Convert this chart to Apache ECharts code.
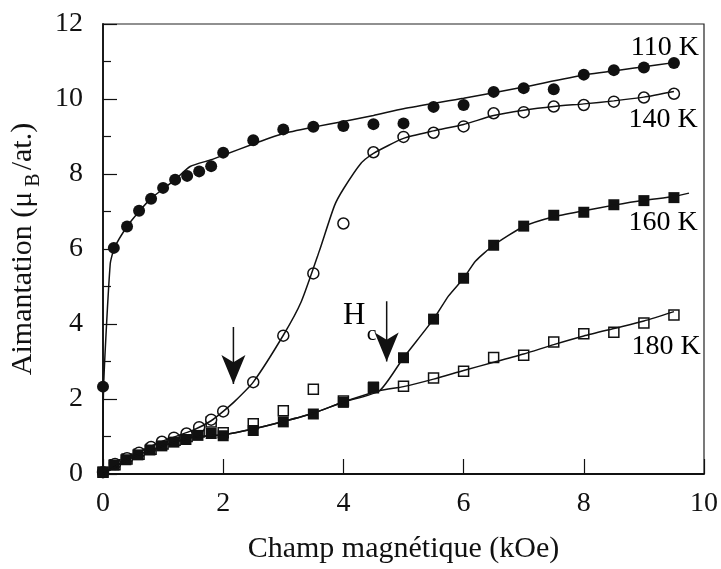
<!DOCTYPE html>
<html>
<head>
<meta charset="utf-8">
<script src="https://cdn.jsdelivr.net/npm/echarts@6/dist/echarts.min.js"></script>
<style>
  html, body { margin: 0; padding: 0; background: #fff; }
  #chart { width: 721px; height: 569px; }
</style>
</head>
<body>
<div id="chart"></div>
<script>
// mesures (ronds pleins) 110 K
var h110 = [0, 0.18, 0.4, 0.6, 0.8, 1.0, 1.2, 1.4, 1.6, 1.8, 2.0, 2.5, 3.0, 3.5, 4.0, 4.5, 5.0, 5.5, 6.0, 6.5, 7.0, 7.5, 8.0, 8.5, 9.0, 9.5];
var m110 = [2.33, 6.03, 6.6, 7.02, 7.34, 7.63, 7.85, 7.95, 8.07, 8.21, 8.57, 8.9, 9.19, 9.26, 9.28, 9.33, 9.35, 9.79, 9.84, 10.19, 10.29, 10.26, 10.65, 10.77, 10.84, 10.96];
// mesures (ronds vides) 140 K
var h140 = [0, 0.2, 0.4, 0.6, 0.8, 0.98, 1.18, 1.39, 1.6, 1.8, 2.0, 2.5, 3.0, 3.5, 4.0, 4.5, 5.0, 5.5, 6.0, 6.5, 7.0, 7.5, 8.0, 8.5, 9.0, 9.5];
var m140 = [0.05, 0.27, 0.42, 0.57, 0.72, 0.86, 0.97, 1.08, 1.25, 1.45, 1.67, 2.45, 3.69, 5.35, 6.68, 8.58, 8.99, 9.1, 9.27, 9.62, 9.65, 9.8, 9.84, 9.93, 10.04, 10.14];
// mesures (carres pleins) 160 K
var h160 = [0, 0.18, 0.38, 0.58, 0.78, 0.98, 1.18, 1.38, 1.58, 1.8, 2.0, 2.5, 3.0, 3.5, 4.0, 4.5, 5.0, 5.5, 6.0, 6.5, 7.0, 7.5, 8.0, 8.5, 9.0, 9.5];
var m160 = [0.05, 0.24, 0.38, 0.51, 0.64, 0.75, 0.85, 0.92, 1.03, 1.08, 1.02, 1.16, 1.39, 1.6, 1.91, 2.32, 3.1, 4.13, 5.22, 6.1, 6.61, 6.9, 6.98, 7.18, 7.29, 7.37];
// mesures (carres vides) 180 K
var h180 = [0, 0.2, 0.4, 0.6, 0.8, 1.0, 1.2, 1.4, 1.6, 1.8, 2.0, 2.5, 3.0, 3.5, 4.0, 4.5, 5.0, 5.5, 6.0, 6.5, 7.0, 7.5, 8.0, 8.5, 9.0, 9.5];
var m180 = [0.05, 0.25, 0.4, 0.53, 0.66, 0.8, 0.9, 1.0, 1.12, 1.39, 1.1, 1.34, 1.69, 2.26, 1.95, 2.3, 2.34, 2.56, 2.74, 3.11, 3.17, 3.52, 3.74, 3.78, 4.03, 4.24];

// courbes tracees (traits pleins)
var fitH110 = [0, 0.01, 0.12, 0.19, 0.4, 0.6, 0.8, 1.0, 1.2, 1.45, 1.8, 2.0, 2.5, 3.0, 3.5, 4.0, 4.5, 5.0, 6.0, 7.0, 8.0, 9.0, 9.5];
var fitM110 = [0, 2.33, 5.6, 6.03, 6.6, 7.0, 7.35, 7.6, 7.85, 8.2, 8.38, 8.5, 8.8, 9.08, 9.25, 9.4, 9.56, 9.74, 10.02, 10.32, 10.64, 10.86, 10.97];
var fitH140 = [0, 0.5, 1.0, 1.5, 1.8, 2.0, 2.2, 2.5, 3.0, 3.3, 3.6, 3.85, 4.0, 4.3, 4.5, 5.0, 5.5, 6.0, 6.5, 7.0, 7.5, 8.0, 8.5, 9.0, 9.5];
var fitM140 = [0, 0.5, 0.88, 1.17, 1.42, 1.67, 1.95, 2.45, 3.7, 4.6, 5.95, 7.15, 7.6, 8.3, 8.55, 8.95, 9.15, 9.32, 9.56, 9.7, 9.8, 9.87, 9.95, 10.05, 10.2];
var fitH160 = [0, 0.5, 1.0, 1.5, 2.0, 2.5, 3.0, 3.5, 4.0, 4.6, 5.0, 5.5, 5.75, 6.0, 6.2, 6.5, 7.0, 7.5, 8.0, 8.5, 9.0, 9.5, 9.75];
var fitM160 = [0, 0.45, 0.75, 0.98, 1.05, 1.2, 1.4, 1.62, 1.92, 2.22, 3.1, 4.13, 4.75, 5.22, 5.68, 6.1, 6.6, 6.86, 7.02, 7.17, 7.3, 7.4, 7.49];
var fitH180 = [0, 0.5, 1.0, 1.5, 2.0, 2.5, 3.0, 3.5, 4.0, 4.6, 5.0, 5.5, 6.0, 6.5, 7.0, 7.5, 8.0, 8.5, 9.0, 9.5];
var fitM180 = [0, 0.45, 0.75, 0.98, 1.05, 1.2, 1.4, 1.62, 1.92, 2.22, 2.33, 2.53, 2.76, 2.98, 3.2, 3.45, 3.68, 3.88, 4.08, 4.33];

var temperatures = ['110 K', '140 K', '160 K', '180 K'];
var xTicks = [0, 2, 4, 6, 8, 10];
var yTicks = [0, 2, 4, 6, 8, 10, 12];

var FONT = 'Liberation Serif';
var INK = '#111';

function pairs(xs, ys) {
  return xs.map(function (x, i) { return [x, ys[i]]; });
}

function points(name, xs, ys, symbol, filled, size) {
  return {
    name: name,
    type: 'scatter',
    symbol: symbol,
    symbolSize: size,
    z: 2,
    itemStyle: {
      color: filled ? INK : '#fff',
      borderColor: INK,
      borderWidth: filled ? 0 : 1.5,
      opacity: 1
    },
    data: pairs(xs, ys)
  };
}

function curve(name, xs, ys) {
  return {
    name: name,
    type: 'line',
    smooth: 0.2,
    showSymbol: false,
    symbol: 'none',
    z: 3,
    lineStyle: { color: INK, width: 1.5 },
    data: pairs(xs, ys)
  };
}

// fleche vers le bas (champ critique)
function arrow(x, yTop, yHead) {
  return {
    type: 'line',
    z: 4,
    lineStyle: { color: INK, width: 1.5 },
    itemStyle: { color: INK, opacity: 1 },
    symbol: 'none',
    data: [
      [x, yTop],
      { value: [x, yHead], symbol: 'arrow', symbolSize: [18, 29], symbolRotate: 180 }
    ]
  };
}

// etiquettes de texte placees sur le repere
var notes = [
  { value: [9.35, 11.37], text: temperatures[0], size: 28 },
  { value: [9.32, 9.44], text: temperatures[1], size: 28 },
  { value: [9.32, 6.69], text: temperatures[2], size: 28 },
  { value: [9.37, 3.40], text: temperatures[3], size: 28 },
  { value: [4.18, 4.21], text: 'H', size: 31 },
  { value: [4.47, 3.72], text: 'c', size: 22 }
];

var chart = echarts.init(document.getElementById('chart'), null, { renderer: 'canvas' });

var option = {
  backgroundColor: '#fff',
  animation: false,
  grid: {
    left: 103, right: 15, top: 24, bottom: 86,
    show: true, borderColor: '#222', borderWidth: 1.2
  },
  xAxis: {
    type: 'value',
    min: xTicks[0], max: xTicks[xTicks.length - 1], interval: 2,
    name: 'Champ magnétique (kOe)',
    nameLocation: 'middle',
    nameGap: 60,
    nameTextStyle: { fontFamily: FONT, fontSize: 30, color: INK },
    axisLine: { show: true, lineStyle: { color: INK, width: 1.8 } },
    axisTick: { show: true, inside: true, length: 15, lineStyle: { color: INK, width: 1.2 } },
    axisLabel: { fontFamily: FONT, fontSize: 28, color: INK, margin: 16 },
    splitLine: { show: false }
  },
  yAxis: {
    type: 'value',
    min: yTicks[0], max: yTicks[yTicks.length - 1], interval: 2,
    name: 'Aimantation (μ{sub|B}/at.)',
    nameLocation: 'middle',
    nameGap: 50,
    nameTextStyle: {
      fontFamily: FONT, fontSize: 30, color: INK,
      rich: {
        sub: { fontFamily: FONT, fontSize: 20, color: INK, lineHeight: 42, verticalAlign: 'bottom', padding: [0, 3, 0, 5] }
      }
    },
    axisLine: { show: true, lineStyle: { color: INK, width: 1.8 } },
    axisTick: { show: true, inside: true, length: 14, lineStyle: { color: INK, width: 1.2 } },
    minorTick: { show: true, splitNumber: 2, length: 8, lineStyle: { color: INK, width: 1.2 } },
    axisLabel: { fontFamily: FONT, fontSize: 28, color: INK, margin: 20 },
    splitLine: { show: false }
  },
  series: [
    points('180 K', h180, m180, 'rect', false, 10),
    points('140 K', h140, m140, 'circle', false, 11),
    points('110 K', h110, m110, 'circle', true, 12),
    points('160 K', h160, m160, 'rect', true, 11),
    curve('fit 110 K', fitH110, fitM110),
    curve('fit 140 K', fitH140, fitM140),
    curve('fit 160 K', fitH160, fitM160),
    curve('fit 180 K', fitH180, fitM180),
    arrow(2.17, 3.92, 2.4),
    arrow(4.72, 4.61, 3.0),
    {
      type: 'scatter',
      symbolSize: 1,
      z: 5,
      itemStyle: { color: 'rgba(0,0,0,0)', opacity: 1 },
      data: notes.map(function (n) {
        return {
          value: n.value,
          label: {
            show: true, position: 'inside', formatter: n.text,
            fontFamily: FONT, fontSize: n.size, color: '#000', opacity: 1
          }
        };
      })
    }
  ]
};

chart.setOption(option);
</script>
</body>
</html>
